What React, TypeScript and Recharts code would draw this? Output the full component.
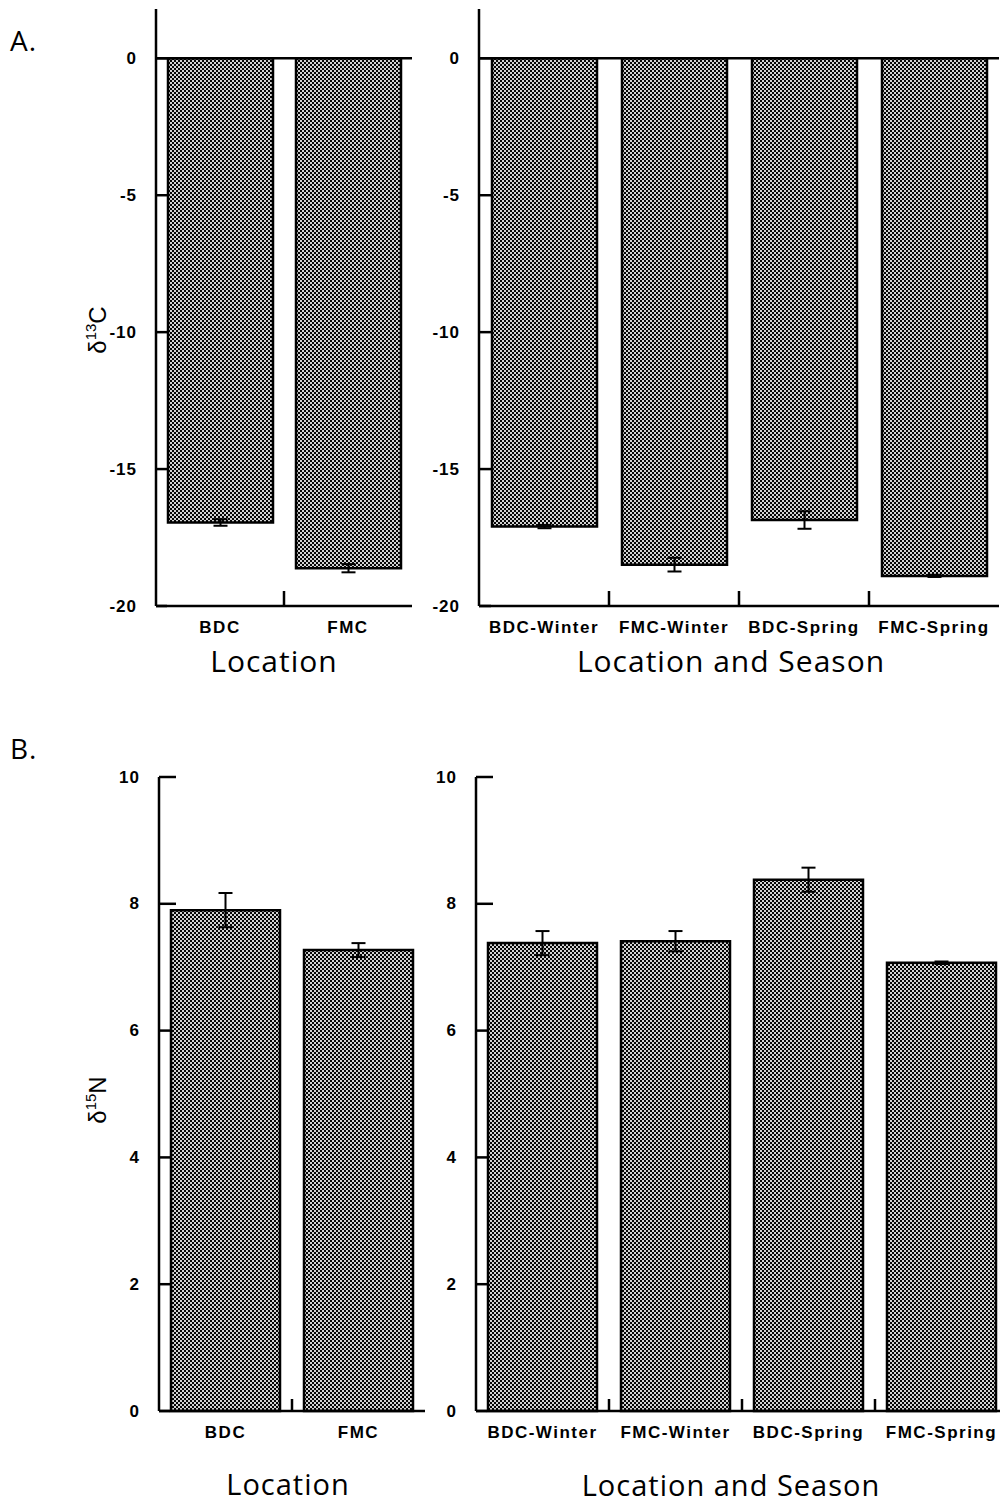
import { Bar, BarChart, ErrorBar, ReferenceLine, XAxis, YAxis } from "recharts";

// categories
const locations = ["BDC", "FMC"];
const locSeasons = ["BDC-Winter", "FMC-Winter", "BDC-Spring", "FMC-Spring"];

// δ13C (panel A)
const carbonByLocation = [-16.95, -18.62];
const carbonByLocationErr = [0.12, 0.15];
const carbonBySeason = [-17.1, -18.49, -16.86, -18.9];
const carbonBySeasonErr = [0.06, 0.25, 0.32, 0.04];

// δ15N (panel B)
const nitrogenByLocation = [7.9, 7.27];
const nitrogenByLocationErr = [0.27, 0.11];
const nitrogenBySeason = [7.38, 7.41, 8.38, 7.07];
const nitrogenBySeasonErr = [0.19, 0.16, 0.19, 0.02];

const carbonTicks = [0, -5, -10, -15, -20];
const nitrogenTicks = [0, 2, 4, 6, 8, 10];

const tickFont = "'Liberation Sans', Arial, sans-serif";
const titleFont = "'Open Sans', 'DejaVu Sans', sans-serif";
const AXIS_W = 2.5;

const rows = (names: string[], vals: number[], errs: number[]) =>
  names.map((name, i) => ({ name, value: vals[i], err: errs[i] }));

const makeYTick = (axisX: number, len: (v: number) => number) => (props: any) => {
  const { y, payload } = props;
  return (
    <g>
      <line x1={axisX} x2={axisX + len(payload.value)} y1={y} y2={y} stroke="#000" strokeWidth={AXIS_W} />
      <text
        x={axisX - 19}
        y={y}
        textAnchor="end"
        dominantBaseline="central"
        fontFamily={tickFont}
        fontWeight="bold"
        fontSize={17}
        letterSpacing={1}
        fill="#000"
      >
        {payload.value}
      </text>
    </g>
  );
};

const makeXTick = (band: number, n: number, divider: number) => (props: any) => {
  const { x, y, payload, index } = props;
  return (
    <g>
      <text
        x={x}
        y={y + 21}
        textAnchor="middle"
        dominantBaseline="central"
        fontFamily={tickFont}
        fontWeight="bold"
        fontSize={17}
        letterSpacing={1.5}
        fill="#000"
      >
        {payload.value}
      </text>
      {index < n - 1 && (
        <line x1={x + band / 2} x2={x + band / 2} y1={y} y2={y - divider} stroke="#000" strokeWidth={AXIS_W} />
      )}
    </g>
  );
};

const yLabel = (cx: number, cy: number, iso: string, el: string) => () => (
  <text
    transform={`rotate(-90, ${cx}, ${cy})`}
    x={cx}
    y={cy}
    textAnchor="middle"
    fontFamily={tickFont}
    fontSize={24}
    fill="#000"
  >
    δ
    <tspan fontSize={15} dy={-10}>
      {iso}
    </tspan>
    <tspan dy={10}>{el}</tspan>
  </text>
);

type PanelProps = {
  id: string;
  left: number;
  top: number;
  width: number;
  height: number;
  marginTop: number;
  marginRight: number;
  yWidth: number;
  data: { name: string; value: number; err: number }[];
  domain: [number, number];
  ticks: number[];
  barSize: number;
  tickLen: (v: number) => number;
  divider: number;
  label?: () => any;
  zeroLine?: boolean;
};

function Panel(p: PanelProps) {
  const band = (p.width - p.yWidth - p.marginRight) / p.data.length;
  return (
    <div style={{ position: "absolute", left: p.left, top: p.top }}>
      <BarChart
        width={p.width}
        height={p.height}
        data={p.data}
        margin={{ top: p.marginTop, right: p.marginRight, bottom: 0, left: 0 }}
      >
        <defs>
          <pattern id={p.id} width={4} height={4} patternUnits="userSpaceOnUse">
            <rect width={4} height={4} fill="#050505" />
            <rect x={0} y={0} width={2} height={2} fill="#d2d2d2" />
            <rect x={2} y={2} width={2} height={2} fill="#d2d2d2" />
          </pattern>
        </defs>
        <XAxis
          dataKey="name"
          height={40}
          interval={0}
          tickSize={0}
          tickMargin={0}
          tickLine={false}
          axisLine={{ stroke: "#000", strokeWidth: AXIS_W }}
          tick={makeXTick(band, p.data.length, p.divider)}
        />
        <YAxis
          type="number"
          width={p.yWidth}
          domain={p.domain}
          ticks={p.ticks}
          interval={0}
          tickSize={0}
          tickMargin={19}
          tickLine={false}
          axisLine={{ stroke: "#000", strokeWidth: AXIS_W }}
          tick={makeYTick(p.yWidth, p.tickLen)}
          label={p.label ? { content: p.label } : undefined}
        />
        {p.zeroLine && <ReferenceLine y={0} stroke="#000" strokeWidth={AXIS_W} />}
        <Bar
          dataKey="value"
          fill={`url(#${p.id})`}
          stroke="#000"
          strokeWidth={2.5}
          barSize={p.barSize}
          isAnimationActive={false}
        >
          <ErrorBar dataKey="err" width={7} strokeWidth={2} stroke="#000" direction="y" />
        </Bar>
      </BarChart>
    </div>
  );
}

const textStyle = (x: number, y: number, size: number): any => ({
  position: "absolute",
  left: x,
  top: y,
  transform: "translate(-50%, -50%)",
  fontFamily: titleFont,
  fontSize: size,
  letterSpacing: 1,
  lineHeight: 1.1,
  whiteSpace: "nowrap",
  color: "#000",
});

export default function App() {
  return (
    <div
      style={{
        position: "absolute",
        left: 0,
        top: 0,
        width: 1000,
        height: 1507,
        overflow: "hidden",
        background: "#fff",
      }}
    >
      <div style={{ ...textStyle(10, 25, 28), transform: "none" }}>A.</div>
      <div style={{ ...textStyle(10, 733, 28), transform: "none" }}>B.</div>

      <Panel
        id="patAL"
        left={0}
        top={0}
        width={420}
        height={646}
        marginTop={9}
        marginRight={8}
        yWidth={156}
        data={rows(locations, carbonByLocation, carbonByLocationErr)}
        domain={[-20, 1.8]}
        ticks={carbonTicks}
        barSize={105}
        tickLen={() => 11}
        divider={15}
        label={yLabel(106, 330, "13", "C")}
        zeroLine
      />
      <Panel
        id="patAR"
        left={330}
        top={0}
        width={669}
        height={646}
        marginTop={9}
        marginRight={0}
        yWidth={149}
        data={rows(locSeasons, carbonBySeason, carbonBySeasonErr)}
        domain={[-20, 1.8]}
        ticks={carbonTicks}
        barSize={105}
        tickLen={() => 12}
        divider={15}
        zeroLine
      />
      <Panel
        id="patBL"
        left={0}
        top={700}
        width={433}
        height={751}
        marginTop={77}
        marginRight={8}
        yWidth={159}
        data={rows(locations, nitrogenByLocation, nitrogenByLocationErr)}
        domain={[0, 10]}
        ticks={nitrogenTicks}
        barSize={109}
        tickLen={(v) => (v >= 8 ? 17 : 11)}
        divider={12}
        label={yLabel(106, 400, "15", "N")}
      />
      <Panel
        id="patBR"
        left={330}
        top={700}
        width={678}
        height={751}
        marginTop={77}
        marginRight={0}
        yWidth={146}
        data={rows(locSeasons, nitrogenBySeason, nitrogenBySeasonErr)}
        domain={[0, 10]}
        ticks={nitrogenTicks}
        barSize={109}
        tickLen={(v) => (v >= 8 ? 17 : 11)}
        divider={12}
      />

      <div style={textStyle(274, 660, 30)}>Location</div>
      <div style={textStyle(731, 660, 30)}>Location and Season</div>
      <div style={textStyle(288, 1484, 29)}>Location</div>
      <div style={textStyle(731, 1485, 29)}>Location and Season</div>
    </div>
  );
}
